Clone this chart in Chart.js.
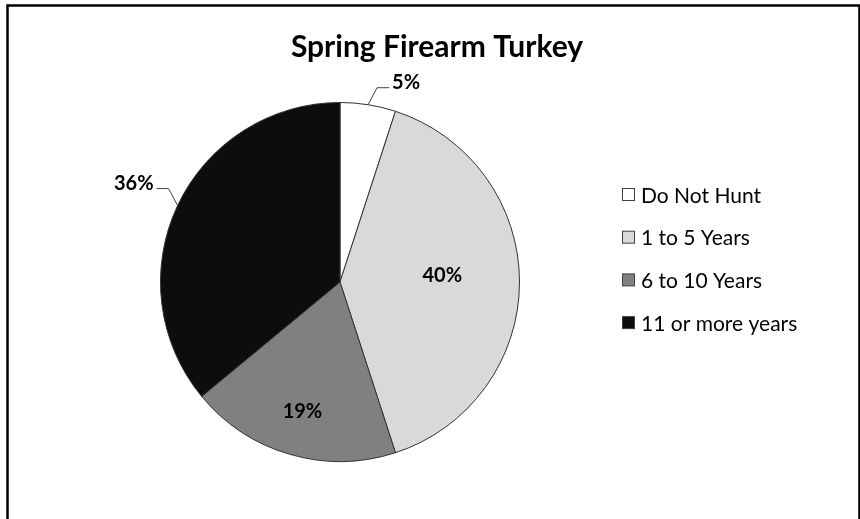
<!DOCTYPE html>
<html><head><meta charset="utf-8">
<script src="https://cdn.jsdelivr.net/npm/chart.js@4"></script>
<style>html,body{margin:0;padding:0;background:#fff;overflow:hidden;} canvas{display:block;}</style>
</head><body>
<canvas id="c" width="860" height="519"></canvas>
<script>
const categories = ['Do Not Hunt', '1 to 5 Years', '6 to 10 Years', '11 or more years'];
const shares = [5, 40, 19, 36];
const chartTitle = 'Spring Firearm Turkey';

const FONT = 'Lato, "Open Sans", sans-serif';

const framePlugin = {
  id: 'frame',
  beforeDraw(chart) {
    const ctx = chart.ctx;
    ctx.save();
    ctx.fillStyle = '#fff';
    ctx.fillRect(0, 0, chart.width, chart.height);
    ctx.strokeStyle = '#000';
    ctx.lineWidth = 2.5;
    ctx.beginPath();
    ctx.moveTo(7.5, chart.height + 5);
    ctx.lineTo(7.5, 5.5);
    ctx.lineTo(859.5, 5.5);
    ctx.lineTo(859.5, chart.height + 5);
    ctx.stroke();
    ctx.restore();
  }
};

const titlePlugin = {
  id: 'titleText',
  afterDraw(chart) {
    const ctx = chart.ctx;
    ctx.save();
    ctx.fillStyle = '#000';
    ctx.font = 'bold 30px ' + FONT;
    ctx.textAlign = 'center';
    ctx.textBaseline = 'alphabetic';
    ctx.fillText(chartTitle, 437, 57);
    ctx.restore();
  }
};

const legendPlugin = {
  id: 'sideLegend',
  afterDraw(chart) {
    const ctx = chart.ctx;
    const ds = chart.data.datasets[0];
    ctx.save();
    ctx.font = '21px ' + FONT;
    ctx.textBaseline = 'middle';
    ctx.textAlign = 'left';
    chart.data.labels.forEach((lab, i) => {
      const y = 195 + i * 42.7;
      ctx.fillStyle = ds.backgroundColor[i];
      ctx.fillRect(622.5, y - 6.5, 12, 12);
      ctx.strokeStyle = '#404040';
      ctx.lineWidth = 1;
      ctx.strokeRect(622.5, y - 6.5, 12, 12);
      ctx.fillStyle = '#000';
      ctx.fillText(lab, 641, y + 1);
    });
    ctx.restore();
  }
};

const labelPlugin = {
  id: 'sliceLabels',
  afterDatasetsDraw(chart) {
    const ctx = chart.ctx;
    const meta = chart.getDatasetMeta(0);
    const modes = ['out', 'in', 'in', 'out'];
    const inFrac = [0, 0.57, 0.75, 0];
    const inLift = [0, -6, 0, 0];
    ctx.save();
    ctx.font = 'bold 20px ' + FONT;
    ctx.fillStyle = '#000';
    ctx.textBaseline = 'middle';
    meta.data.forEach((arc, i) => {
      const p = arc.getProps(['x', 'y', 'startAngle', 'endAngle', 'outerRadius'], true);
      const mid = (p.startAngle + p.endAngle) / 2;
      const txt = shares[i] + '%';
      if (modes[i] === 'in') {
        const r = p.outerRadius * inFrac[i];
        ctx.textAlign = 'center';
        ctx.fillText(txt, p.x + Math.cos(mid) * r, p.y + Math.sin(mid) * r + inLift[i]);
      } else {
        const ax = p.x + Math.cos(mid) * p.outerRadius;
        const ay = p.y + Math.sin(mid) * p.outerRadius;
        const side = Math.cos(mid) >= 0 ? 1 : -1;
        const ex = ax + side * 9, ey = ay - 17;
        const hx = ex + side * 12;
        ctx.strokeStyle = '#404040';
        ctx.lineWidth = 1;
        ctx.beginPath();
        ctx.moveTo(ax, ay);
        ctx.lineTo(ex, ey);
        ctx.lineTo(hx, ey);
        ctx.stroke();
        ctx.textAlign = side > 0 ? 'left' : 'right';
        ctx.fillText(txt, hx + side * 3, ey - 5);
      }
    });
    ctx.restore();
  }
};

new Chart(document.getElementById('c'), {
  type: 'pie',
  data: {
    labels: categories,
    datasets: [{
      data: shares,
      backgroundColor: ['#ffffff', '#d9d9d9', '#808080', '#0d0d0d'],
      borderColor: '#333333',
      borderWidth: 1
    }]
  },
  options: {
    responsive: false,
    devicePixelRatio: 1,
    animation: false,
    layout: { padding: { left: 160, right: 340, top: 102, bottom: 57 } },
    plugins: {
      legend: { display: false },
      title: { display: false },
      tooltip: { enabled: false }
    }
  },
  plugins: [framePlugin, labelPlugin, titlePlugin, legendPlugin]
});
</script>
</body></html>
